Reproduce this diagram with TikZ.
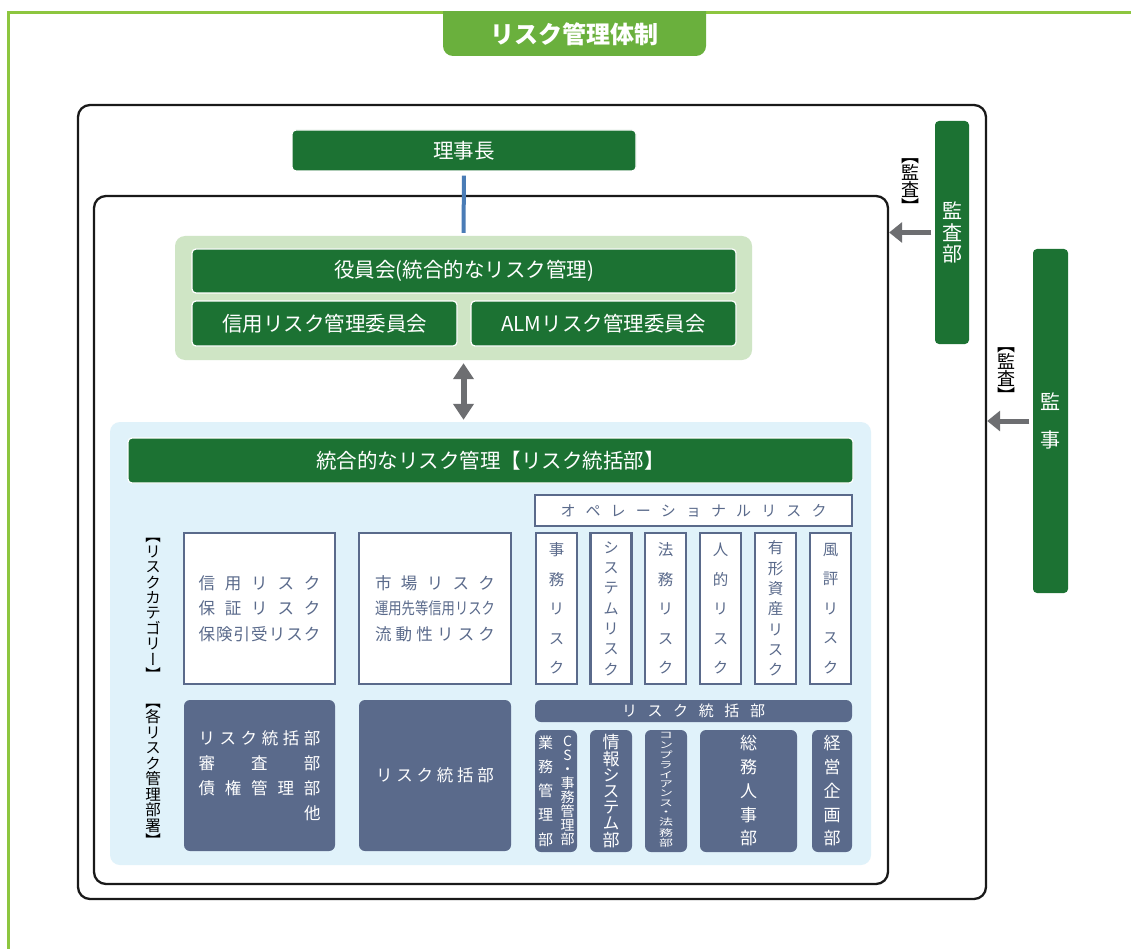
\documentclass[tikz,border=0pt]{standalone}
\usepackage{fontspec}
\setmainfont{Noto Sans CJK JP}
\newfontfamily\vfont[RawFeature=+vert]{Noto Sans CJK JP}
\usetikzlibrary{arrows.meta}
\definecolor{darkgreen}{HTML}{1C7233}
\definecolor{palegreen}{HTML}{CFE5C5}
\definecolor{framegreen}{HTML}{8DC63F}
\definecolor{tabgreen}{HTML}{6AB03D}
\definecolor{paleblue}{HTML}{E0F2FA}
\definecolor{slate}{HTML}{5A6A8B}
\definecolor{arrowgrey}{HTML}{6D6E71}
\definecolor{linkblue}{HTML}{4A7CB6}
\def\setfs#1#2{\fontsize{#1}{#2}\selectfont}
% spread the letters of #2 over a line #1 wide
\def\spread#1#2{\hbox to #1{\spreadfirst#2\relax}}
\def\spreadfirst#1{#1\spreadnext}
\def\spreadnext#1{\ifx\relax#1\else\hfil#1\expandafter\spreadnext\fi}

\begin{document}
\begin{tikzpicture}[x=1pt, y=-1pt,
	greenbox/.style={fill=darkgreen, draw=white, line width=1.2pt, rounded corners=4pt, text=white, inner sep=0pt, align=center},
	riskbox/.style={fill=white, draw=slate, line width=2.4pt, text=slate, inner sep=0pt, align=center},
	deptbox/.style={fill=slate, rounded corners=6pt, text=white, inner sep=0pt, align=center},
	frame/.style={draw=black!90, line width=2.3pt, rounded corners=12pt, fill=white, inner sep=0pt},
	panel/.style={rounded corners=10pt, inner sep=0pt},
	vlabel/.style={inner sep=0pt, align=center},
	greyarrow/.style={arrowgrey, line width=5pt, -{Triangle[length=13pt, width=20pt]}}]
	\useasboundingbox (0,0) rectangle (1131,949);
	% page frame and title tab
	\draw[framegreen, line width=3pt] (8.5,949) -- (8.5,13) -- (1131,13);
	\begin{scope}
		\clip (0,12) rectangle (1131,60);
		\fill[tabgreen, rounded corners=10pt] (443,0) rectangle (706,56);
	\end{scope}
	\node[text=white, font=\setfs{24}{24}\bfseries] (title) at (574.5,34) {リスク管理体制};

	\node[frame, minimum width=908pt, minimum height=794pt] (outerbox) at (532,502) {};
	\node[frame, minimum width=794pt, minimum height=688pt] (innerbox) at (491,540) {};

	% board and committees
	\node[greenbox, minimum width=344pt, minimum height=41pt, font=\setfs{20.5}{24}] (chair) at (464,150.5) {理事長};
	\node[panel, fill=palegreen, minimum width=577pt, minimum height=124pt] (boardpanel) at (463.5,298) {};
	\node[greenbox, minimum width=544pt, minimum height=44pt, font=\setfs{20.5}{24}] (board) at (464,271) {役員会(統合的なリスク管理)};
	\node[greenbox, minimum width=265pt, minimum height=45pt, font=\setfs{20.5}{24}] (creditcom) at (324.5,323.5) {信用リスク管理委員会};
	\node[greenbox, minimum width=265pt, minimum height=45pt, font=\setfs{20.5}{24}] (almcom) at (603.5,323.5) {ALMリスク管理委員会};
	\draw[linkblue, line width=4pt, shorten <=4pt, shorten >=3pt] (chair.south) -- (boardpanel.north);

	% risk management
	\node[panel, fill=paleblue, minimum width=761pt, minimum height=443pt] (riskpanel) at (490.5,643.5) {};
	\draw[arrowgrey, line width=6pt, {Triangle[length=16pt, width=20pt]}-{Triangle[length=16pt, width=20pt]}, shorten <=3pt, shorten >=2pt] (boardpanel.south) -- (boardpanel.south |- riskpanel.north);
	\node[greenbox, minimum width=725pt, minimum height=45pt, font=\setfs{20.5}{24}] (unified) at (490.5,460.5) {統合的なリスク管理【リスク統括部】};

	\node[vlabel, font=\vfont\setfs{15.5}{15.4}] (catlabel) at (153,609.5) {【\\リ\\ス\\ク\\カ\\テ\\ゴ\\リ\\ー\\】};
	\node[vlabel, font=\vfont\setfs{15.5}{15.5}] (deptlabel) at (153,775.5) {【\\各\\リ\\ス\\ク\\管\\理\\部\\署\\】};

	\node[riskbox, minimum width=151pt, minimum height=151pt, font=\setfs{16.5}{25.5}] (creditrisk) at (259.5,608.5)
		{\spread{122pt}{信用リスク}\\\spread{122pt}{保証リスク}\\\spread{122pt}{保険引受リスク}};
	\node[riskbox, minimum width=152pt, minimum height=151pt, font=\setfs{16.5}{25.5}] (marketrisk) at (435,608.5)
		{\spread{120pt}{市場リスク}\\\resizebox{120pt}{\height}{運用先等信用リスク}\\\spread{120pt}{流動性リスク}};
	\node[riskbox, minimum width=317pt, minimum height=31pt, font=\setfs{15}{15}] (oprisk) at (693.5,510.5) {\spread{266pt}{オペレーショナルリスク}};
	\node[riskbox, minimum width=41pt, minimum height=151pt, font=\vfont\setfs{15.5}{29.5}] (clerical) at (556.5,608.5) {事\\務\\リ\\ス\\ク};
	\node[riskbox, minimum width=41pt, minimum height=151pt, font=\vfont\setfs{15.5}{20.3}] (system) at (611,608.5) {シ\\ス\\テ\\ム\\リ\\ス\\ク};
	\node[riskbox, minimum width=41pt, minimum height=151pt, font=\vfont\setfs{15.5}{29.5}] (legal) at (665.5,608.5) {法\\務\\リ\\ス\\ク};
	\node[riskbox, minimum width=41pt, minimum height=151pt, font=\vfont\setfs{15.5}{29.5}] (human) at (720.5,608.5) {人\\的\\リ\\ス\\ク};
	\node[riskbox, minimum width=41pt, minimum height=151pt, font=\vfont\setfs{15.5}{20.3}] (asset) at (775.5,608.5) {有\\形\\資\\産\\リ\\ス\\ク};
	\node[riskbox, minimum width=41pt, minimum height=151pt, font=\vfont\setfs{15.5}{29.5}] (reputation) at (830.5,608.5) {風\\評\\リ\\ス\\ク};

	% departments
	\node[deptbox, minimum width=151pt, minimum height=151pt, font=\setfs{16.5}{25}] (creditdept) at (259.5,775.5)
		{\spread{122pt}{リスク統括部}\\\spread{122pt}{審査部}\\\spread{122pt}{債権管理部}\\\hbox to 122pt{\hfil 他}};
	\node[deptbox, minimum width=152pt, minimum height=151pt, font=\setfs{16.5}{25}] (marketdept) at (435,775.5) {\spread{118pt}{リスク統括部}};
	\node[deptbox, minimum width=317pt, minimum height=22pt, font=\setfs{15}{15}] (ctrlbar) at (693.5,711) {\spread{143pt}{リスク統括部}};
	\node[deptbox, minimum width=42pt, minimum height=122pt] (opsdept) at (556,791) {};
	\node[vlabel, text=white, font=\vfont\setfs{15}{24.2}] (opsname) at (545.5,791) {業\\務\\管\\理\\部};
	\node[vlabel, text=white, font=\vfont\setfs{14}{14}] (csname) at (567.5,791) {C\\S\\・\\事\\務\\管\\理\\部};
	\node[deptbox, minimum width=42pt, minimum height=122pt, font=\vfont\setfs{17}{16.2}] (itdept) at (611,791) {情\\報\\シ\\ス\\テ\\ム\\部};
	\node[deptbox, minimum width=42pt, minimum height=122pt, font=\vfont\setfs{14}{14}] (legaldept) at (666,791)
		{\scalebox{1}[0.66]{\begin{tabular}{@{}c@{}}コ\\ン\\プ\\ラ\\イ\\ア\\ン\\ス\\・\\法\\務\\部\end{tabular}}};
	\node[deptbox, minimum width=97pt, minimum height=122pt, font=\vfont\setfs{17}{23.75}] (hrdept) at (748.5,791) {総\\務\\人\\事\\部};
	\node[deptbox, minimum width=40pt, minimum height=122pt, font=\vfont\setfs{17}{23.75}] (plandept) at (832,791) {経\\営\\企\\画\\部};

	% audit
	\node[greenbox, draw=none, minimum width=34pt, minimum height=223pt, font=\setfs{20}{21.5}] (auditdept) at (952,232.5) {監\\査\\部};
	\node[greenbox, draw=none, minimum width=35pt, minimum height=344pt, font=\setfs{20}{38}] (auditor) at (1050.5,421) {監\\事};
	\draw[greyarrow, shorten <=3pt] (auditdept.west) -- (auditdept.west -| innerbox.east);
	\draw[greyarrow, shorten <=3pt] (auditor.west) -- (auditor.west -| outerbox.east);
	\node[vlabel, font=\vfont\setfs{18}{17}] (auditlabel) at (910,186.5) {【\\監\\査\\】};
	\node[vlabel, font=\vfont\setfs{18}{17}] (auditorlabel) at (1006,375) {【\\監\\査\\】};
\end{tikzpicture}
\end{document}
